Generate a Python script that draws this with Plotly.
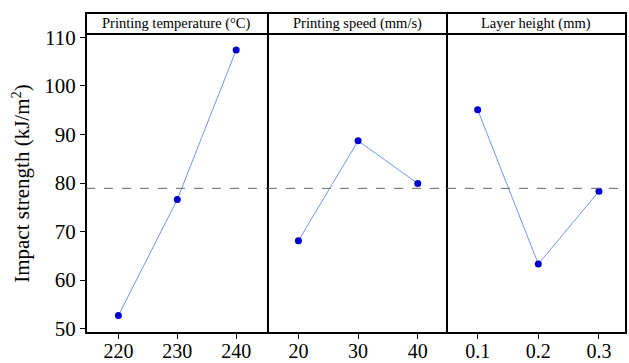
import plotly.graph_objects as go

factors = ["Printing temperature (°C)", "Printing speed (mm/s)", "Layer height (mm)"]
temp_levels = [220, 230, 240]
temp_vals = [52.7, 76.6, 107.4]
speed_levels = [20, 30, 40]
speed_vals = [68.1, 88.7, 79.9]
layer_levels = [0.1, 0.2, 0.3]
layer_vals = [95.1, 63.3, 78.3]
mean_val = 78.9
y_ticks = [50, 60, 70, 80, 90, 100, 110]

levels = [temp_levels, speed_levels, layer_levels]
values = [temp_vals, speed_vals, layer_vals]
xranges = [[214.5, 245.4], [14.9, 44.9], [0.0494, 0.3446]]
domains = [[0, 0.337], [0.337, 0.6685], [0.6685, 1.0]]

FONT = "Liberation Serif, Times New Roman, serif"
fig = go.Figure()
for i in range(3):
    sfx = "" if i == 0 else str(i + 1)
    fig.add_trace(go.Scatter(
        x=levels[i], y=values[i], mode="lines+markers",
        line=dict(color="#6f95f0", width=1),
        marker=dict(color="#0000d0", size=7),
        xaxis="x" + sfx, yaxis="y" + sfx, showlegend=False))
    fig.layout["xaxis" + sfx] = dict(
        domain=domains[i], range=xranges[i], anchor="y" + sfx,
        tickvals=levels[i], ticktext=[str(v) for v in levels[i]],
        ticks="outside", ticklen=5, tickwidth=1, tickcolor="black",
        ticklabelstandoff=-5,
        showgrid=False, zeroline=False, showline=False, automargin=False,
        tickfont=dict(family=FONT, size=20, color="black"))
    ya = dict(range=[49.1, 110.7], anchor="x" + sfx, showgrid=False,
              zeroline=False, showline=False, automargin=False)
    if i == 0:
        ya.update(tickvals=y_ticks, ticks="outside", ticklen=5, tickwidth=1,
                  tickcolor="black",
                  tickfont=dict(family=FONT, size=21, color="black"),
                  title=dict(text="Impact strength (kJ/m<sup>2</sup>)",
                             font=dict(family=FONT, size=21, color="black"),
                             standoff=8))
    else:
        ya.update(matches="y", showticklabels=False, ticks="")
    fig.layout["yaxis" + sfx] = ya

    xr = "x" + sfx + " domain"
    yr = "y" + sfx + " domain"
    fig.add_shape(type="rect", xref=xr, yref=yr, x0=0, x1=1, y0=0, y1=1,
                  line=dict(color="black", width=2), layer="above")
    fig.add_shape(type="rect", xref=xr, yref=yr, x0=0, x1=1, y0=1, y1=1 + 21 / 299,
                  line=dict(color="black", width=2), layer="above")
    fig.add_annotation(text=factors[i], xref=xr, yref=yr, x=0.5, y=1 + 10.5 / 299,
                       showarrow=False, xanchor="center", yanchor="middle",
                       font=dict(family=FONT, size=14.5, color="black"))
    fig.add_shape(type="line", xref=xr, yref="y" + sfx, x0=0, x1=1,
                  y0=mean_val, y1=mean_val,
                  line=dict(color="#666666", width=1, dash="dash"))

fig.update_layout(
    width=629, height=363,
    margin=dict(l=86, r=3, t=34, b=30, autoexpand=False),
    paper_bgcolor="white", plot_bgcolor="white",
)
fig.write_html("out.html")
